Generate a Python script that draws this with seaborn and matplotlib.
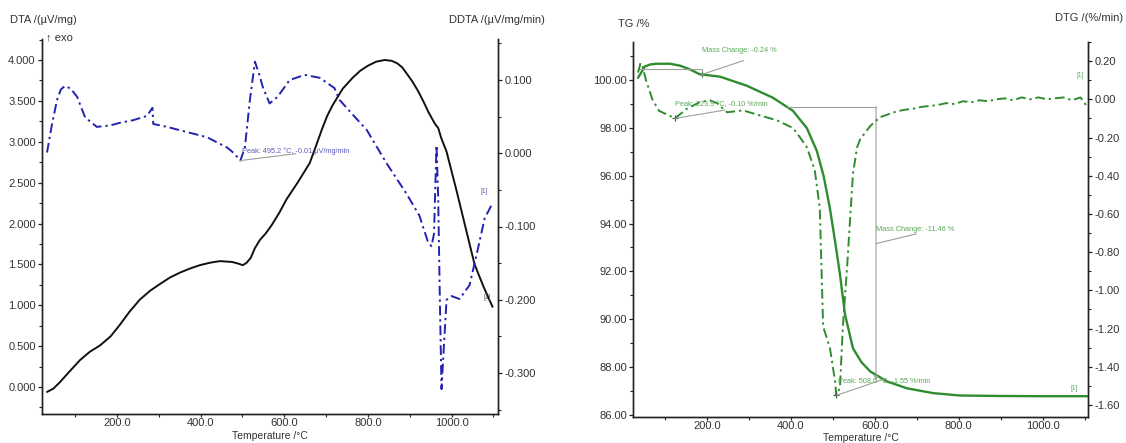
import matplotlib
matplotlib.use("Agg")
import matplotlib.pyplot as plt
from matplotlib.ticker import MultipleLocator, FormatStrFormatter
import pandas as pd
import seaborn as sns

# ---- DTA / DDTA run ----
dta_temp = [33, 48, 64, 85, 112, 135, 160, 185, 207, 230, 255, 280, 303, 327, 351,
            375, 398, 422, 446, 475, 490, 501, 510, 520, 530, 542, 556, 570, 588,
            606, 632, 661, 676, 690, 703, 716, 740, 763, 782, 800, 820, 840, 857,
            870, 882, 892, 906, 920, 933, 945, 958, 963, 968, 975, 988, 1000, 1012,
            1033, 1055, 1077, 1098]
dta_val = [-0.06, -0.02, 0.06, 0.18, 0.33, 0.43, 0.51, 0.62, 0.76, 0.92, 1.07, 1.18,
           1.26, 1.34, 1.40, 1.45, 1.49, 1.52, 1.54, 1.53, 1.51, 1.49, 1.52, 1.58,
           1.70, 1.80, 1.88, 1.98, 2.13, 2.30, 2.50, 2.74, 2.95, 3.15, 3.32, 3.45,
           3.65, 3.78, 3.87, 3.93, 3.98, 4.00, 3.99, 3.96, 3.91, 3.84, 3.74, 3.62,
           3.49, 3.36, 3.24, 3.20, 3.17, 3.05, 2.88, 2.64, 2.40, 1.96, 1.50, 1.22,
           0.98]

ddta_temp = [33, 45, 57, 66, 76, 90, 105, 124, 152, 184, 210, 238, 272, 285, 287,
             320, 367, 415, 463, 480, 495.2, 506, 518, 530, 540, 549, 565, 584, 613,
             649, 685, 720, 732, 765, 797, 845, 892, 923, 943, 952, 958, 964, 968,
             972, 976, 982, 988, 1000, 1019, 1043, 1062, 1079, 1098]
ddta_val = [0.001, 0.040, 0.073, 0.087, 0.092, 0.088, 0.077, 0.049, 0.036, 0.038,
            0.042, 0.045, 0.051, 0.062, 0.040, 0.036, 0.029, 0.022, 0.008, 0.000,
            -0.010, 0.008, 0.073, 0.125, 0.108, 0.090, 0.068, 0.077, 0.100, 0.107,
            0.103, 0.089, 0.073, 0.052, 0.032, -0.014, -0.055, -0.085, -0.120,
            -0.127, -0.110, 0.011, -0.060, -0.200, -0.322, -0.260, -0.200, -0.195,
            -0.199, -0.180, -0.133, -0.089, -0.068]
ddta_peak = (495.2, -0.01)

# ---- TG / DTG run ----
tg_temp = [36, 52, 65, 81, 112, 136, 160, 183, 231, 295, 357, 405, 438, 462, 478,
           493, 505, 517, 529, 548, 568, 589, 629, 677, 739, 803, 900, 1000, 1106]
tg_val = [100.10, 100.57, 100.66, 100.69, 100.69, 100.61, 100.45, 100.25, 100.15,
          99.77, 99.27, 98.72, 98.00, 97.04, 96.00, 94.65, 93.30, 91.88, 90.20,
          88.78, 88.20, 87.81, 87.39, 87.10, 86.90, 86.80, 86.78, 86.77, 86.77]

dtg_temp = [36, 42, 47, 55, 70, 86, 110, 123.9, 152, 183, 207, 224, 248, 286, 326,
            367, 405, 422, 438, 457, 469, 477, 493, 505, 508.6, 517, 524, 534, 548,
            558, 565, 589, 612, 630, 650, 670, 690, 710, 730, 750, 770, 790, 810,
            830, 850, 870, 890, 910, 930, 950, 970, 990, 1010, 1030, 1050, 1070,
            1090, 1100, 1106]
dtg_val = [0.14, 0.19, 0.17, 0.10, 0.00, -0.06, -0.085, -0.10, -0.05, -0.015,
           -0.005, -0.02, -0.068, -0.058, -0.084, -0.11, -0.15, -0.20, -0.25, -0.37,
           -0.57, -1.19, -1.30, -1.47, -1.55, -1.51, -1.19, -0.88, -0.39, -0.25,
           -0.21, -0.14, -0.094, -0.08, -0.065, -0.055, -0.05, -0.04, -0.035, -0.03,
           -0.02, -0.025, -0.01, -0.015, -0.005, -0.01, 0.0, 0.005, -0.005, 0.01,
           0.0, 0.01, 0.0, 0.005, 0.01, -0.005, 0.01, -0.02, -0.04]
dtg_small_peak = (123.9, -0.10)
dtg_main_peak = (508.6, -1.55)

mass_step1 = -0.24
mass_step2 = -11.46
step1_level = 100.48
step2_level = 98.89

sns.set_theme(style="ticks")
plt.rcParams['font.family'] = ['Liberation Sans', 'DejaVu Sans']
plt.rcParams['axes.unicode_minus'] = False

BLACK = "#111111"
BLUE = "#2323b0"
GREEN = "#2f8c2f"
TXT_BLUE = "#5a5ac0"
TXT_GREEN = "#5aa85a"
LEAD = "#9aa09a"
TICK = "#333333"

W, H = 1126, 443
fig = plt.figure(figsize=(W / 100, H / 100), dpi=100)

ax1 = fig.add_axes([42 / W, 1 - 414 / H, 456 / W, 375 / H])
ax1b = ax1.twinx()
ax2 = fig.add_axes([633 / W, 1 - 417 / H, 455 / W, 375 / H])
ax2b = ax2.twinx()

df_dta = pd.DataFrame({"T": dta_temp, "v": dta_val})
df_ddta = pd.DataFrame({"T": ddta_temp, "v": ddta_val})
df_tg = pd.DataFrame({"T": tg_temp, "v": tg_val})
df_dtg = pd.DataFrame({"T": dtg_temp, "v": dtg_val})

dashdot = (0, (5, 2, 1.2, 2))
sns.lineplot(data=df_dta, x="T", y="v", ax=ax1, color=BLACK, lw=1.4,
             sort=False, estimator=None)
sns.lineplot(data=df_ddta, x="T", y="v", ax=ax1b, color=BLUE, lw=1.4,
             linestyle=dashdot, sort=False, estimator=None)
sns.lineplot(data=df_tg, x="T", y="v", ax=ax2, color=GREEN, lw=1.7,
             sort=False, estimator=None)
sns.lineplot(data=df_dtg, x="T", y="v", ax=ax2b, color=GREEN, lw=1.4,
             linestyle=dashdot, sort=False, estimator=None)

ax1.set_xlim(21, 1111)
ax1.set_ylim(-0.33, 4.257)
ax1b.set_ylim(-0.356, 0.156)
ax2.set_xlim(24, 1108)
ax2.set_ylim(85.9, 101.6)
ax2b.set_ylim(-1.663, 0.30)

for a in (ax1, ax1b, ax2, ax2b):
    a.set_xlabel("")
    a.set_ylabel("")
    a.spines["top"].set_visible(False)
    for s in ("left", "right", "bottom"):
        a.spines[s].set_color("#222222")
        a.spines[s].set_linewidth(1.0)
    a.tick_params(which="major", direction="out", length=3, width=0.9,
                  colors="#222222", labelcolor=TICK, labelsize=8, pad=1.5)
    a.tick_params(which="minor", direction="out", length=2, width=0.8,
                  colors="#222222")
    a.tick_params(axis="x", which="major", length=2.5, pad=0.5)
    a.xaxis.set_major_locator(MultipleLocator(200))
    a.xaxis.set_minor_locator(MultipleLocator(100))
    a.xaxis.set_major_formatter(FormatStrFormatter("%.1f"))

ax1.yaxis.set_major_locator(MultipleLocator(0.5))
ax1.yaxis.set_minor_locator(MultipleLocator(0.25))
ax1.yaxis.set_major_formatter(FormatStrFormatter("%.3f"))
ax1b.yaxis.set_major_locator(MultipleLocator(0.1))
ax1b.yaxis.set_minor_locator(MultipleLocator(0.05))
ax1b.yaxis.set_major_formatter(FormatStrFormatter("%.3f"))
ax2.yaxis.set_major_locator(MultipleLocator(2))
ax2.yaxis.set_minor_locator(MultipleLocator(1))
ax2.yaxis.set_major_formatter(FormatStrFormatter("%.2f"))
ax2b.yaxis.set_major_locator(MultipleLocator(0.2))
ax2b.yaxis.set_minor_locator(MultipleLocator(0.1))
ax2b.yaxis.set_major_formatter(FormatStrFormatter("%.2f"))

# ---- annotations, DTA panel ----
ax1b.annotate("", xy=ddta_peak, xytext=(40, 5), textcoords="offset points",
              arrowprops=dict(arrowstyle="-", color=LEAD, lw=0.8,
                              shrinkA=0, shrinkB=0))
ax1b.annotate(f"Peak: {ddta_peak[0]:.1f} °C, {ddta_peak[1]:.2f} µV/mg/min",
              xy=ddta_peak, xytext=(1, 6.5), textcoords="offset points",
              fontsize=5.3, color=TXT_BLUE, ha="left", va="center")
ax1b.annotate("[1]", xy=(ddta_temp[-1], ddta_val[-1]), xytext=(-6, 6),
              textcoords="offset points", fontsize=4.8, color=TXT_BLUE,
              ha="center", va="bottom")
ax1.annotate("[1]", xy=(dta_temp[-1], dta_val[-1]), xytext=(-4, 4),
             textcoords="offset points", fontsize=4.8, color="#555555",
             ha="center", va="bottom")

# ---- annotations, TG panel ----
t0 = tg_temp[0]
step1_T = 188
ax2.plot([t0, step1_T], [step1_level, step1_level], color=LEAD, lw=0.8)
ax2.plot([step1_T, step1_T], [step1_level, step1_level + mass_step1],
         color=LEAD, lw=0.8)
ax2.plot([step1_T], [step1_level + mass_step1], marker="+", ms=4,
         color="#557755", mew=0.8)
ax2.annotate("", xy=(step1_T, step1_level + mass_step1), xytext=(30, 10),
             textcoords="offset points",
             arrowprops=dict(arrowstyle="-", color=LEAD, lw=0.8,
                             shrinkA=0, shrinkB=0))
ax2.annotate(f"Mass Change: {mass_step1:.2f} %",
             xy=(step1_T, step1_level + mass_step1), xytext=(0, 17),
             textcoords="offset points", fontsize=5.3, color=TXT_GREEN,
             ha="left", va="center")

step2_T = 603
ax2.plot([391, step2_T], [step2_level, step2_level], color=LEAD, lw=0.8)
ax2.annotate("", xy=(step2_T, step2_level + mass_step2),
             xytext=(step2_T, step2_level),
             arrowprops=dict(arrowstyle="->", color=LEAD, lw=0.8,
                             shrinkA=0, shrinkB=0, mutation_scale=6))
mid = step2_level + mass_step2 / 2
ax2.annotate("", xy=(step2_T, mid), xytext=(29, 7),
             textcoords="offset points",
             arrowprops=dict(arrowstyle="-", color=LEAD, lw=0.8,
                             shrinkA=0, shrinkB=0))
ax2.annotate(f"Mass Change: {mass_step2:.2f} %", xy=(step2_T, mid),
             xytext=(0, 10), textcoords="offset points", fontsize=5.3,
             color=TXT_GREEN, ha="left", va="center")
ax2.annotate("[1]", xy=(tg_temp[-1], tg_val[-1]), xytext=(-9, 3),
             textcoords="offset points", fontsize=4.8, color=TXT_GREEN,
             ha="center", va="bottom")

for pk in (dtg_small_peak, dtg_main_peak):
    ax2b.plot([pk[0]], [pk[1]], marker="+", ms=5, color="#335533", mew=0.8)
ax2b.annotate("", xy=dtg_small_peak, xytext=(36, 6), textcoords="offset points",
              arrowprops=dict(arrowstyle="-", color=LEAD, lw=0.8,
                              shrinkA=0, shrinkB=0))
ax2b.annotate(f"Peak: {dtg_small_peak[0]:.1f} °C, {dtg_small_peak[1]:.2f} %/min",
              xy=dtg_small_peak, xytext=(0, 10), textcoords="offset points",
              fontsize=5.3, color=TXT_GREEN, ha="left", va="center")
ax2b.annotate("", xy=dtg_main_peak, xytext=(35, 12), textcoords="offset points",
              arrowprops=dict(arrowstyle="-", color=LEAD, lw=0.8,
                              shrinkA=0, shrinkB=0))
ax2b.annotate(f"Peak: {dtg_main_peak[0]:.1f} °C, {dtg_main_peak[1]:.2f} %/min",
              xy=dtg_main_peak, xytext=(1, 10), textcoords="offset points",
              fontsize=5.3, color=TXT_GREEN, ha="left", va="center")
ax2b.annotate("[1]", xy=(dtg_temp[-1], dtg_val[-1]), xytext=(-5, 20),
              textcoords="offset points", fontsize=4.8, color=TXT_GREEN,
              ha="center", va="bottom")

# ---- axis titles ----
def ftext(x, y, s, size=8, **kw):
    fig.text(x / W, 1 - y / H, s, fontsize=size, color=TICK, va="center", **kw)

ftext(10, 20, "DTA /(µV/mg)", ha="left")
ftext(46, 37, "↑ exo", ha="left")
ftext(545, 20, "DDTA /(µV/mg/min)", ha="right")
ftext(270, 436, "Temperature /°C", size=7.5, ha="center")
ftext(618, 24, "TG /%", ha="left")
ftext(1123, 18, "DTG /(%/min)", ha="right")
ftext(861, 438, "Temperature /°C", size=7.5, ha="center")

fig.savefig("out.png", dpi=100, facecolor="white")
